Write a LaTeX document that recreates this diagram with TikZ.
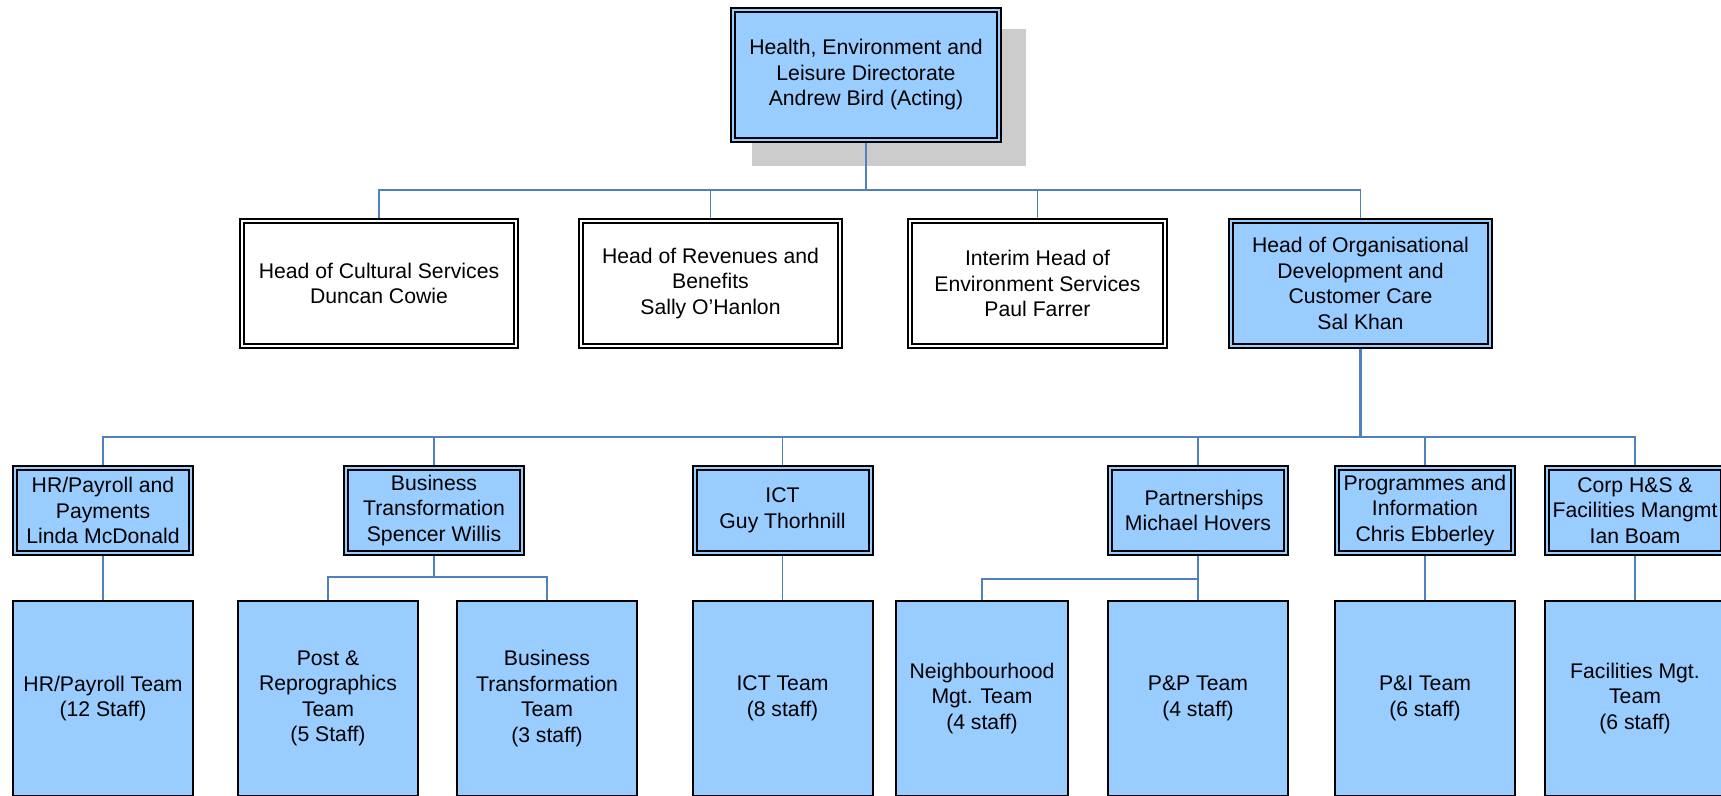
\documentclass[tikz,border=0pt]{standalone}
\usepackage{fontspec}
\setmainfont{Liberation Sans}
\usetikzlibrary{backgrounds}
\definecolor{boxblue}{HTML}{99CCFF}
\definecolor{linkblue}{HTML}{4F81BD}
\definecolor{shadowgray}{HTML}{CCCCCC}
\begin{document}
\begin{tikzpicture}[x=1pt,y=-1pt,
  txt/.style={font=\fontsize{21.2}{25.5}\selectfont, align=center, text=black, inner sep=0pt, rectangle},
  mgr/.style={txt, draw=black, line width=2pt, double=boxblue, double distance=2pt, fill=boxblue},
  headbox/.style={txt, draw=black, line width=2pt, double=white, double distance=2pt, fill=white},
  team/.style={txt, draw=black, line width=2pt, fill=boxblue},
  conn/.style={draw=linkblue, line width=1.8pt},
  connthick/.style={draw=linkblue, line width=3pt}]
\useasboundingbox (0,0) rectangle (1721,795);

% top
\node[mgr, minimum width=266pt, minimum height=130pt] (top) at (866,75)
  {Health, Environment and\\Leisure Directorate\\Andrew Bird (Acting)};

% level 2
\node[headbox, minimum width=274pt, minimum height=125pt] (h1) at (379,283.5)
  {Head of Cultural Services\\Duncan Cowie};
\node[headbox, minimum width=259pt, minimum height=125pt] (h2) at (710.5,283.5)
  {Head of Revenues and\\Benefits\\Sally O’Hanlon};
\node[headbox, minimum width=255pt, minimum height=125pt] (h3) at (1037.5,283.5)
  {Interim Head of\\Environment Services\\Paul Farrer};
\node[mgr, minimum width=259pt, minimum height=125pt] (h4) at (1360.5,283.5)
  {Head of Organisational\\Development and\\Customer Care\\Sal Khan};

% level 3
\node[mgr, minimum width=176pt, minimum height=85pt] (m1) at (103,510.5)
  {HR/Payroll and\\Payments\\Linda McDonald};
\node[mgr, minimum width=176pt, minimum height=85pt] (m2) at (434,510.5)
  {Business\\Transformation\\Spencer Willis};
\node[mgr, minimum width=176pt, minimum height=85pt] (m3) at (782.5,510.5)
  {ICT\\Guy Thorhnill};
\node[mgr, minimum width=176pt, minimum height=85pt] (m4) at (1198,510.5)
  {\hspace*{12pt}Partnerships\\Michael Hovers};
\node[mgr, minimum width=176pt, minimum height=85pt] (m5) at (1425,510.5)
  {Programmes and\\Information\\Chris Ebberley};
\node[mgr, minimum width=176pt, minimum height=85pt] (m6) at (1635,510.5)
  {Corp H\&S \&\\Facilities Mangmt\\Ian Boam};

% level 4
\node[team, minimum width=180pt, minimum height=195pt] (t1) at (103,698.5)
  {HR/Payroll Team\\(12 Staff)};
\node[team, minimum width=180pt, minimum height=195pt] (t2) at (328,698.5)
  {Post \&\\Reprographics\\Team\\(5 Staff)};
\node[team, minimum width=180pt, minimum height=195pt] (t3) at (547,698.5)
  {Business\\Transformation\\Team\\(3 staff)};
\node[team, minimum width=180pt, minimum height=195pt] (t4) at (782.5,698.5)
  {ICT Team\\(8 staff)};
\node[team, minimum width=172pt, minimum height=195pt] (t5) at (982,698.5)
  {Neighbourhood\\Mgt. Team\\(4 staff)};
\node[team, minimum width=180pt, minimum height=195pt] (t6) at (1198,698.5)
  {P\&P Team\\(4 staff)};
\node[team, minimum width=180pt, minimum height=195pt] (t7) at (1425,698.5)
  {P\&I Team\\(6 staff)};
\node[team, minimum width=180pt, minimum height=195pt] (t8) at (1635,698.5)
  {Facilities Mgt.\\Team\\(6 staff)};

\coordinate (busA) at (0,190);
\coordinate (busB) at (0,437);
\coordinate (busC) at (0,577);
\coordinate (busD) at (0,579);

\begin{scope}[on background layer]
  \fill[white] (0,0) rectangle (1721,795);
  \fill[shadowgray] (752,29) rectangle (1026,166);
  % top to level 2
  \draw[conn] (top.south) -- (top.south |- busA);
  \draw[conn] (h1.north) |- (top.south |- busA) -| (h4.north);
  \draw[conn] (h2.north) -- (h2.north |- busA);
  \draw[conn] (h3.north) -- (h3.north |- busA);
  % level 2 to level 3
  \draw[connthick] (h4.south) -- (h4.south |- busB);
  \draw[conn] (m1.north) |- (h4.south |- busB) -| (m6.north);
  \draw[conn] (m2.north) -- (m2.north |- busB);
  \draw[conn] (m3.north) -- (m3.north |- busB);
  \draw[conn] (m4.north) -- (m4.north |- busB);
  \draw[conn] (m5.north) -- (m5.north |- busB);
  % level 3 to level 4
  \draw[conn] (m1.south) -- (t1.north);
  \draw[conn] (m2.south) -- (m2.south |- busC);
  \draw[conn] (t2.north) |- (m2.south |- busC) -| (t3.north);
  \draw[conn] (m3.south) -- (t4.north);
  \draw[conn] (m4.south) -- (t6.north);
  \draw[conn] (t5.north) |- (m4.south |- busD);
  \draw[conn] (m5.south) -- (t7.north);
  \draw[conn] (m6.south) -- (t8.north);
\end{scope}
\end{tikzpicture}
\end{document}
